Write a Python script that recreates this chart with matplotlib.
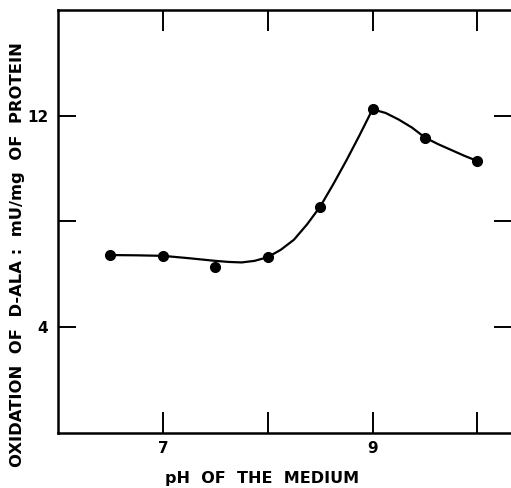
import matplotlib
matplotlib.use("Agg")
import matplotlib.pyplot as plt

# measured points
ph_points = [6.5, 7.0, 7.5, 8.0, 8.5, 9.0, 9.5, 10.0]
oxidation = [6.72, 6.69, 6.28, 6.64, 8.55, 12.24, 11.17, 10.28]

# hand-drawn curve
curve_ph = [6.5, 6.75, 7.0, 7.25, 7.5, 7.625, 7.75, 7.875, 8.0, 8.125, 8.25,
            8.375, 8.5, 8.625, 8.75, 8.875, 9.0, 9.125, 9.25, 9.375, 9.5,
            9.625, 9.75, 9.875, 10.0]
curve_ox = [6.72, 6.71, 6.69, 6.60, 6.50, 6.46, 6.44, 6.50, 6.64, 6.92, 7.30,
            7.88, 8.55, 9.40, 10.30, 11.25, 12.24, 12.10, 11.85, 11.55, 11.17,
            10.92, 10.70, 10.48, 10.28]

x_ticks = [7, 8, 9, 10]
x_labels = ["7", "", "9", ""]
y_ticks = [4, 8, 12]
y_labels = ["4", "", "12"]

plt.rcParams["font.family"] = ["DejaVu Sans"]

fig = plt.figure(figsize=(5.11, 4.88), dpi=100, facecolor="white")
ax = fig.add_axes([58 / 511, 55.5 / 488, 454 / 511, 422.5 / 488])

ax.plot(curve_ph, curve_ox, color="black", linewidth=1.6, zorder=2)
ax.plot(ph_points, oxidation, "o", color="black", markersize=7, zorder=3)

ax.set_xlim(6.0, 10.33)
ax.set_ylim(0, 16)
ax.set_xticks(x_ticks)
ax.set_xticklabels(x_labels)
ax.set_yticks(y_ticks)
ax.set_yticklabels(y_labels)

ax.tick_params(axis="x", direction="in", length=15, width=1.4, top=True,
               labelsize=11, pad=6)
ax.tick_params(axis="y", direction="in", length=13, width=1.4, right=True,
               labelsize=11, pad=7)
for lbl in ax.get_xticklabels() + ax.get_yticklabels():
    lbl.set_fontweight("semibold")
for s in ax.spines.values():
    s.set_linewidth(1.8)

fig.text(262 / 511, 1 - 479 / 488, "pH  OF  THE  MEDIUM", fontsize=11.5,
         ha="center", va="center", fontweight="semibold")
fig.text(18 / 511, 1 - 255 / 488, "OXIDATION  OF  D-ALA :  mU/mg  OF  PROTEIN",
         fontsize=11.8, rotation=90, ha="center", va="center",
         fontweight="semibold")

fig.savefig("out.png", dpi=100, facecolor="white")
